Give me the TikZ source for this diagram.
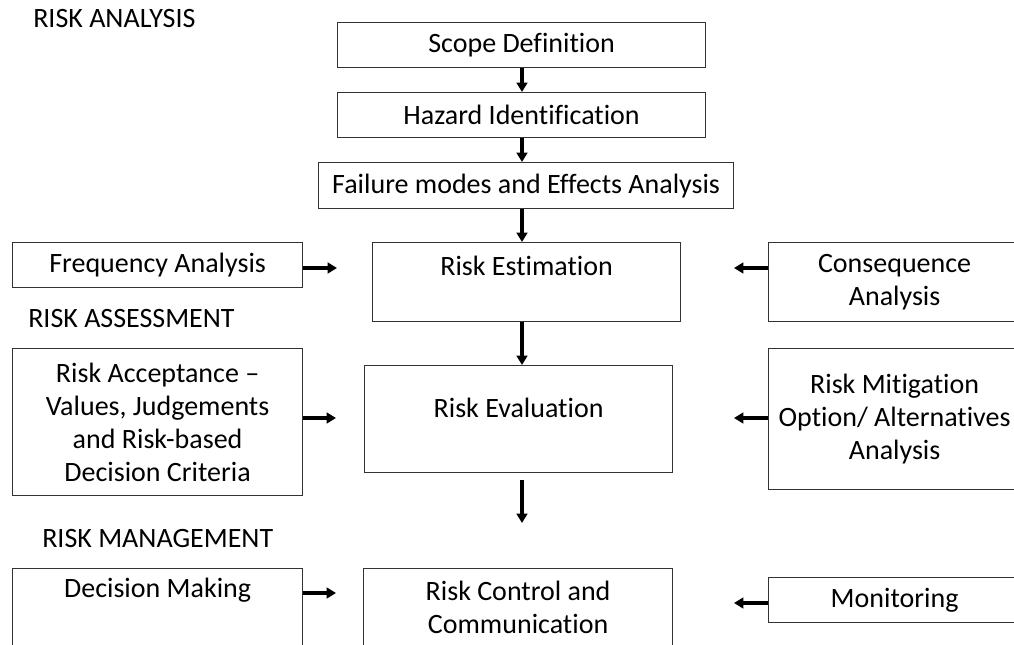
\documentclass[tikz,border=0pt]{standalone}
\usepackage{fontspec}
\setmainfont[Ligatures={TeX,NoCommon}]{Carlito}
\usetikzlibrary{arrows.meta}

\tikzset{
  box/.style={draw=black!80, line width=0.9pt, inner sep=0pt, align=center, anchor=north west, minimum width=#1},
  arr/.style={line width=3pt, -{Triangle[length=7pt,width=8pt]}},
  heading/.style={anchor=base west, inner sep=0pt}
}

\begin{document}
\begin{tikzpicture}[x=0.75pt, y=-0.75pt, font=\fontsize{21pt}{24.75pt}\selectfont]
\clip (0,0) rectangle (1014,644);

\node[heading] (analysis) at (33,27) {RISK ANALYSIS};
\node[heading] (assessment) at (28,327) {RISK ASSESSMENT};
\node[heading] (management) at (42,547) {RISK MANAGEMENT};

\node[box=276pt, minimum height=33.75pt] (scope) at (337,22) {Scope Definition};
\node[box=276pt, minimum height=33.75pt] (hazard) at (337,92) {Hazard Identification};
\node[box=311.25pt, minimum height=34.5pt] (failure) at (318,162) {Failure modes and Effects Analysis};

\node[box=217.5pt, minimum height=33.75pt] (freq) at (12,242) {Frequency Analysis};
\node[box=231pt, text height=24.75pt, text depth=34.5pt] (est) at (372,242) {Risk Estimation};
\node[box=189pt, minimum height=59.25pt] (cons) at (768,242) {Consequence\\Analysis};

\node[box=217.5pt, minimum height=110.25pt] (accept) at (12,348) {Risk Acceptance –\\Values, Judgements\\and Risk-based\\Decision Criteria};
\node[box=231pt, text height=39pt, text depth=41.25pt] (eval) at (364,365) {Risk Evaluation};
\node[box=189pt, minimum height=105.75pt] (mitig) at (768,348) {Risk Mitigation\\Option/ Alternatives\\Analysis};

\node[box=217.5pt, text height=21.75pt, text depth=47.25pt] (decide) at (12,568) {Decision Making};
\node[box=231.75pt, text height=48.75pt, text depth=20.25pt] (control) at (363,568) {Risk Control and\\Communication};
\node[box=189pt, minimum height=33.75pt] (monitor) at (768,577) {Monitoring};

% main column
\coordinate (axis) at (522,0);
\draw[arr] (scope.south -| axis) -- (hazard.north -| axis);
\draw[arr] (hazard.south -| axis) -- (failure.north -| axis);
\draw[arr] (failure.south -| axis) -- (est.north -| axis);
\draw[arr] (est.south -| axis) -- (eval.north -| axis);
\coordinate (evalout) at (522,480);
\coordinate (ctrlin) at (522,523);
\draw[arr] (evalout) -- (ctrlin);

% side inputs
\coordinate (freqend) at (337,268);
\coordinate (consend) at (734,268);
\coordinate (acceptend) at (336,418);
\coordinate (mitigend) at (734,418);
\coordinate (decideend) at (336,593);
\coordinate (monitorend) at (734,603);
\draw[arr] (freq.east |- freqend) -- (freqend);
\draw[arr] (cons.west |- consend) -- (consend);
\draw[arr] (accept.east |- acceptend) -- (acceptend);
\draw[arr] (mitig.west |- mitigend) -- (mitigend);
\draw[arr] (decide.east |- decideend) -- (decideend);
\draw[arr] (monitor.west |- monitorend) -- (monitorend);
\end{tikzpicture}
\end{document}
